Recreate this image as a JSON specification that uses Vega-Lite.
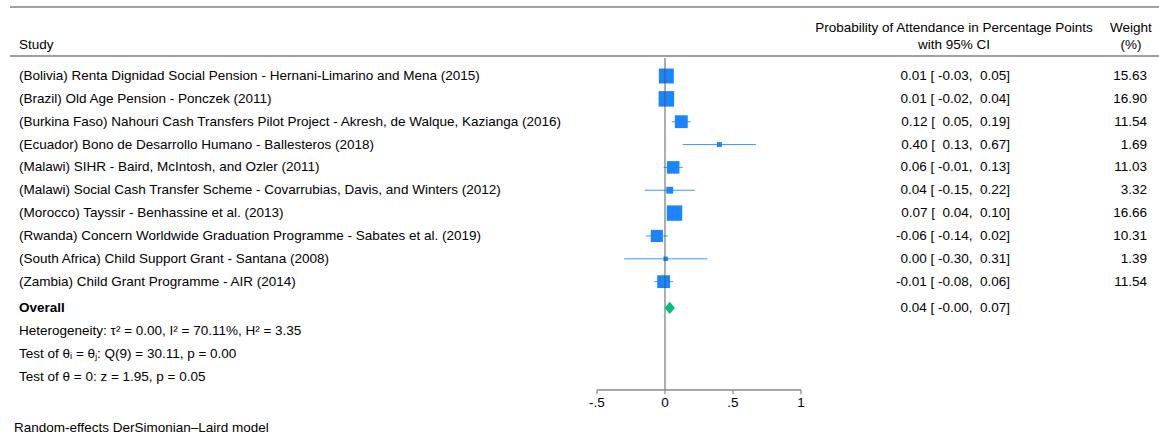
{
  "$schema": "https://vega.github.io/schema/vega-lite/v6.json",
  "width": 1159,
  "height": 437,
  "padding": 0,
  "autosize": {"type": "none"},
  "background": "white",
  "config": {
    "view": {"stroke": null},
    "text": {"font": "Liberation Sans", "fontSize": 13.5, "color": "#000000", "baseline": "middle"}
  },
  "datasets": {
    "studies": [
      {"row": 1, "study": "(Bolivia) Renta Dignidad Social Pension - Hernani-Limarino and Mena (2015)", "est": 0.01, "lo": -0.03, "hi": 0.05, "weight": 15.63, "ci": "0.01 [ -0.03, \u00a00.05]"},
      {"row": 2, "study": "(Brazil) Old Age Pension - Ponczek (2011)", "est": 0.01, "lo": -0.02, "hi": 0.04, "weight": 16.90, "ci": "0.01 [ -0.02, \u00a00.04]"},
      {"row": 3, "study": "(Burkina Faso) Nahouri Cash Transfers Pilot Project - Akresh, de Walque, Kazianga (2016)", "est": 0.12, "lo": 0.05, "hi": 0.19, "weight": 11.54, "ci": "0.12 [ \u00a00.05, \u00a00.19]"},
      {"row": 4, "study": "(Ecuador) Bono de Desarrollo Humano - Ballesteros (2018)", "est": 0.40, "lo": 0.13, "hi": 0.67, "weight": 1.69, "ci": "0.40 [ \u00a00.13, \u00a00.67]"},
      {"row": 5, "study": "(Malawi) SIHR - Baird, McIntosh, and Ozler (2011)", "est": 0.06, "lo": -0.01, "hi": 0.13, "weight": 11.03, "ci": "0.06 [ -0.01, \u00a00.13]"},
      {"row": 6, "study": "(Malawi) Social Cash Transfer Scheme - Covarrubias, Davis, and Winters (2012)", "est": 0.035, "lo": -0.15, "hi": 0.22, "weight": 3.32, "ci": "0.04 [ -0.15, \u00a00.22]"},
      {"row": 7, "study": "(Morocco) Tayssir - Benhassine et al. (2013)", "est": 0.07, "lo": 0.04, "hi": 0.10, "weight": 16.66, "ci": "0.07 [ \u00a00.04, \u00a00.10]"},
      {"row": 8, "study": "(Rwanda) Concern Worldwide Graduation Programme - Sabates et al. (2019)", "est": -0.06, "lo": -0.14, "hi": 0.02, "weight": 10.31, "ci": "-0.06 [ -0.14, \u00a00.02]"},
      {"row": 9, "study": "(South Africa) Child Support Grant - Santana (2008)", "est": 0.005, "lo": -0.30, "hi": 0.31, "weight": 1.39, "ci": "0.00 [ -0.30, \u00a00.31]"},
      {"row": 10, "study": "(Zambia) Child Grant Programme - AIR (2014)", "est": -0.01, "lo": -0.08, "hi": 0.06, "weight": 11.54, "ci": "-0.01 [ -0.08, \u00a00.06]"}
    ],
    "overall": [
      {"study": "Overall", "est": 0.035, "lo": -0.003, "hi": 0.07, "ci": "0.04 [ -0.00, \u00a00.07]"}
    ],
    "ticks": [
      {"value": -0.5, "label": "-.5"},
      {"value": 0, "label": "0"},
      {"value": 0.5, "label": ".5"},
      {"value": 1, "label": "1"}
    ],
    "one": [{}]
  },
  "layer": [
    {
      "data": {"name": "one"},
      "mark": {"type": "rule", "color": "#444444", "strokeWidth": 1.2},
      "encoding": {
        "x": {"datum": -4.816, "type": "quantitative", "scale": {"domain": [-4.8897, 3.6324], "nice": false, "zero": false}, "axis": null},
        "x2": {"datum": 3.6324},
        "y": {"datum": -2.02, "type": "quantitative", "scale": {"domain": [-2.326, 16.7987], "nice": false, "zero": false, "reverse": true}, "axis": null}
      }
    },
    {
      "data": {"name": "one"},
      "mark": {"type": "rule", "color": "#444444", "strokeWidth": 1.2},
      "encoding": {
        "x": {"datum": -4.816, "type": "quantitative", "scale": {"domain": [-4.8897, 3.6324], "nice": false, "zero": false}, "axis": null},
        "x2": {"datum": 3.6324},
        "y": {"datum": 0.125, "type": "quantitative", "scale": {"domain": [-2.326, 16.7987], "nice": false, "zero": false, "reverse": true}, "axis": null}
      }
    },
    {
      "data": {"name": "studies"},
      "mark": {"type": "rule", "color": "#1a85ff", "strokeWidth": 1, "opacity": 0.85},
      "encoding": {
        "x": {"field": "lo", "type": "quantitative", "scale": {"domain": [-4.8897, 3.6324], "nice": false, "zero": false}, "axis": null},
        "x2": {"field": "hi"},
        "y": {"field": "row", "type": "quantitative", "scale": {"domain": [-2.326, 16.7987], "nice": false, "zero": false, "reverse": true}, "axis": null}
      }
    },
    {
      "data": {"name": "studies"},
      "mark": {"type": "point", "shape": "square", "filled": true, "color": "#1a85ff", "opacity": 1},
      "encoding": {
        "x": {"field": "est", "type": "quantitative", "scale": {"domain": [-4.8897, 3.6324], "nice": false, "zero": false}, "axis": null},
        "y": {"field": "row", "type": "quantitative", "scale": {"domain": [-2.326, 16.7987], "nice": false, "zero": false, "reverse": true}, "axis": null},
        "size": {"field": "weight", "type": "quantitative", "scale": {"type": "linear", "domain": [0, 20], "range": [0, 285], "zero": true}, "legend": null}
      }
    },
    {
      "data": {"name": "one"},
      "mark": {"type": "rule", "color": "#555555", "strokeWidth": 1.6, "opacity": 0.6},
      "encoding": {
        "x": {"datum": 0, "type": "quantitative", "scale": {"domain": [-4.8897, 3.6324], "nice": false, "zero": false}, "axis": null},
        "y": {"datum": 0.212, "type": "quantitative", "scale": {"domain": [-2.326, 16.7987], "nice": false, "zero": false, "reverse": true}, "axis": null},
        "y2": {"datum": 14.742}
      }
    },
    {
      "data": {"name": "overall"},
      "mark": {"type": "point", "shape": "M-0.85,0L0,-1L0.85,0L0,1Z", "filled": true, "color": "#00bf7f", "opacity": 1, "size": 150},
      "encoding": {
        "x": {"field": "est", "type": "quantitative", "scale": {"domain": [-4.8897, 3.6324], "nice": false, "zero": false}, "axis": null},
        "y": {"datum": 11.153, "type": "quantitative", "scale": {"domain": [-2.326, 16.7987], "nice": false, "zero": false, "reverse": true}, "axis": null}
      }
    },
    {
      "data": {"name": "one"},
      "mark": {"type": "rule", "color": "#8a8a8a", "strokeWidth": 1.4},
      "encoding": {
        "x": {"datum": -0.5, "type": "quantitative", "scale": {"domain": [-4.8897, 3.6324], "nice": false, "zero": false}, "axis": null},
        "x2": {"datum": 1},
        "y": {"datum": 14.742, "type": "quantitative", "scale": {"domain": [-2.326, 16.7987], "nice": false, "zero": false, "reverse": true}, "axis": null}
      }
    },
    {
      "data": {"name": "ticks"},
      "mark": {"type": "rule", "color": "#8a8a8a", "strokeWidth": 1.2},
      "encoding": {
        "x": {"field": "value", "type": "quantitative", "scale": {"domain": [-4.8897, 3.6324], "nice": false, "zero": false}, "axis": null},
        "y": {"datum": 14.742, "type": "quantitative", "scale": {"domain": [-2.326, 16.7987], "nice": false, "zero": false, "reverse": true}, "axis": null},
        "y2": {"datum": 14.93}
      }
    },
    {
      "data": {"name": "ticks"},
      "mark": {"type": "text", "align": "center"},
      "encoding": {
        "x": {"field": "value", "type": "quantitative", "scale": {"domain": [-4.8897, 3.6324], "nice": false, "zero": false}, "axis": null},
        "y": {"datum": 15.311, "type": "quantitative", "scale": {"domain": [-2.326, 16.7987], "nice": false, "zero": false, "reverse": true}, "axis": null},
        "text": {"field": "label"}
      }
    },
    {
      "data": {"name": "studies"},
      "mark": {"type": "text", "align": "left"},
      "encoding": {
        "x": {"datum": -4.75, "type": "quantitative", "scale": {"domain": [-4.8897, 3.6324], "nice": false, "zero": false}, "axis": null},
        "y": {"field": "row", "type": "quantitative", "scale": {"domain": [-2.326, 16.7987], "nice": false, "zero": false, "reverse": true}, "axis": null},
        "text": {"field": "study"}
      }
    },
    {
      "data": {"name": "studies"},
      "mark": {"type": "text", "align": "right"},
      "encoding": {
        "x": {"datum": 2.537, "type": "quantitative", "scale": {"domain": [-4.8897, 3.6324], "nice": false, "zero": false}, "axis": null},
        "y": {"field": "row", "type": "quantitative", "scale": {"domain": [-2.326, 16.7987], "nice": false, "zero": false, "reverse": true}, "axis": null},
        "text": {"field": "ci"}
      }
    },
    {
      "data": {"name": "studies"},
      "mark": {"type": "text", "align": "right"},
      "encoding": {
        "x": {"datum": 3.544, "type": "quantitative", "scale": {"domain": [-4.8897, 3.6324], "nice": false, "zero": false}, "axis": null},
        "y": {"field": "row", "type": "quantitative", "scale": {"domain": [-2.326, 16.7987], "nice": false, "zero": false, "reverse": true}, "axis": null},
        "text": {"field": "weight", "format": ".2f"}
      }
    },
    {
      "data": {"name": "overall"},
      "mark": {"type": "text", "align": "left", "fontWeight": "bold"},
      "encoding": {
        "x": {"datum": -4.75, "type": "quantitative", "scale": {"domain": [-4.8897, 3.6324], "nice": false, "zero": false}, "axis": null},
        "y": {"datum": 11.153, "type": "quantitative", "scale": {"domain": [-2.326, 16.7987], "nice": false, "zero": false, "reverse": true}, "axis": null},
        "text": {"field": "study"}
      }
    },
    {
      "data": {"name": "overall"},
      "mark": {"type": "text", "align": "right"},
      "encoding": {
        "x": {"datum": 2.537, "type": "quantitative", "scale": {"domain": [-4.8897, 3.6324], "nice": false, "zero": false}, "axis": null},
        "y": {"datum": 11.153, "type": "quantitative", "scale": {"domain": [-2.326, 16.7987], "nice": false, "zero": false, "reverse": true}, "axis": null},
        "text": {"field": "ci"}
      }
    },
    {
      "data": {"name": "one"},
      "mark": {"type": "text", "align": "left", "text": "Heterogeneity: τ² = 0.00, I² = 70.11%, H² = 3.35"},
      "encoding": {
        "x": {"datum": -4.75, "type": "quantitative", "scale": {"domain": [-4.8897, 3.6324], "nice": false, "zero": false}, "axis": null},
        "y": {"datum": 12.16, "type": "quantitative", "scale": {"domain": [-2.326, 16.7987], "nice": false, "zero": false, "reverse": true}, "axis": null}
      }
    },
    {
      "data": {"name": "one"},
      "mark": {"type": "text", "align": "left", "text": "Test of θᵢ = θⱼ: Q(9) = 30.11, p = 0.00"},
      "encoding": {
        "x": {"datum": -4.75, "type": "quantitative", "scale": {"domain": [-4.8897, 3.6324], "nice": false, "zero": false}, "axis": null},
        "y": {"datum": 13.166, "type": "quantitative", "scale": {"domain": [-2.326, 16.7987], "nice": false, "zero": false, "reverse": true}, "axis": null}
      }
    },
    {
      "data": {"name": "one"},
      "mark": {"type": "text", "align": "left", "text": "Test of θ = 0: z = 1.95, p = 0.05"},
      "encoding": {
        "x": {"datum": -4.75, "type": "quantitative", "scale": {"domain": [-4.8897, 3.6324], "nice": false, "zero": false}, "axis": null},
        "y": {"datum": 14.173, "type": "quantitative", "scale": {"domain": [-2.326, 16.7987], "nice": false, "zero": false, "reverse": true}, "axis": null}
      }
    },
    {
      "data": {"name": "one"},
      "mark": {"type": "text", "align": "left", "text": "Study"},
      "encoding": {
        "x": {"datum": -4.75, "type": "quantitative", "scale": {"domain": [-4.8897, 3.6324], "nice": false, "zero": false}, "axis": null},
        "y": {"datum": -0.357, "type": "quantitative", "scale": {"domain": [-2.326, 16.7987], "nice": false, "zero": false, "reverse": true}, "axis": null}
      }
    },
    {
      "data": {"name": "one"},
      "mark": {"type": "text", "align": "center", "text": "Probability of Attendance in Percentage Points"},
      "encoding": {
        "x": {"datum": 2.125, "type": "quantitative", "scale": {"domain": [-4.8897, 3.6324], "nice": false, "zero": false}, "axis": null},
        "y": {"datum": -1.12, "type": "quantitative", "scale": {"domain": [-2.326, 16.7987], "nice": false, "zero": false, "reverse": true}, "axis": null}
      }
    },
    {
      "data": {"name": "one"},
      "mark": {"type": "text", "align": "center", "text": "with 95% CI"},
      "encoding": {
        "x": {"datum": 2.125, "type": "quantitative", "scale": {"domain": [-4.8897, 3.6324], "nice": false, "zero": false}, "axis": null},
        "y": {"datum": -0.34, "type": "quantitative", "scale": {"domain": [-2.326, 16.7987], "nice": false, "zero": false, "reverse": true}, "axis": null}
      }
    },
    {
      "data": {"name": "one"},
      "mark": {"type": "text", "align": "center", "text": "Weight"},
      "encoding": {
        "x": {"datum": 3.426, "type": "quantitative", "scale": {"domain": [-4.8897, 3.6324], "nice": false, "zero": false}, "axis": null},
        "y": {"datum": -1.12, "type": "quantitative", "scale": {"domain": [-2.326, 16.7987], "nice": false, "zero": false, "reverse": true}, "axis": null}
      }
    },
    {
      "data": {"name": "one"},
      "mark": {"type": "text", "align": "center", "text": "(%)"},
      "encoding": {
        "x": {"datum": 3.426, "type": "quantitative", "scale": {"domain": [-4.8897, 3.6324], "nice": false, "zero": false}, "axis": null},
        "y": {"datum": -0.34, "type": "quantitative", "scale": {"domain": [-2.326, 16.7987], "nice": false, "zero": false, "reverse": true}, "axis": null}
      }
    },
    {
      "data": {"name": "one"},
      "mark": {"type": "text", "align": "left", "text": "Random-effects DerSimonian–Laird model"},
      "encoding": {
        "x": {"datum": -4.787, "type": "quantitative", "scale": {"domain": [-4.8897, 3.6324], "nice": false, "zero": false}, "axis": null},
        "y": {"datum": 16.405, "type": "quantitative", "scale": {"domain": [-2.326, 16.7987], "nice": false, "zero": false, "reverse": true}, "axis": null}
      }
    }
  ]
}
